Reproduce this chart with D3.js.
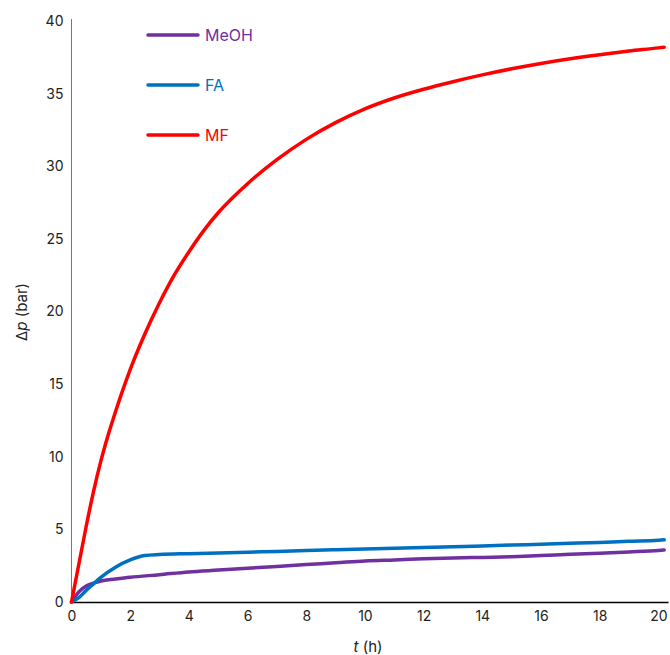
<!DOCTYPE html>
<html>
<head>
<meta charset="utf-8" />
<script src="https://d3js.org/d3.v7.min.js"></script>
<style>
  body { margin: 0; background: #fff; }
  text { font-family: Inter, "Noto Sans", sans-serif; }
</style>
</head>
<body>
<div id="canvas"></div>
<script>
// 読み取った値 (t in h, Δp in bar)
var seriesNames = ["MeOH", "FA", "MF"];
var seriesColors = ["#7030A0", "#0070C0", "#FF0000"];

var tMF   = [0, 0.25, 0.5, 0.75, 1, 1.25, 1.5, 1.75, 2, 2.5, 3, 3.5, 4, 4.5, 5, 5.5, 6, 7, 8, 9, 10, 11, 12, 13, 14, 15, 16, 17, 18, 19, 20, 20.2];
var vMF   = [0, 2.6, 5.2, 7.6, 9.7, 11.5, 13.1, 14.6, 16.0, 18.45, 20.6, 22.5, 24.1, 25.55, 26.8, 27.85, 28.8, 30.45, 31.85, 33.0, 33.95, 34.7, 35.3, 35.82, 36.29, 36.71, 37.08, 37.4, 37.68, 37.93, 38.15, 38.2];

var tFA   = [0, 0.25, 0.5, 0.75, 1, 1.5, 2, 2.5, 3, 4, 5, 6, 7, 8, 9, 10, 11, 12, 13, 14, 15, 16, 17, 18, 19, 20, 20.2];
var vFA   = [0, 0.3, 0.8, 1.25, 1.7, 2.4, 2.9, 3.2, 3.27, 3.33, 3.38, 3.43, 3.48, 3.55, 3.6, 3.65, 3.7, 3.75, 3.8, 3.86, 3.92, 3.98, 4.04, 4.1, 4.18, 4.25, 4.28];

var tMeOH = [0, 0.1, 0.25, 0.5, 0.75, 1, 1.5, 2, 3, 4, 5, 6, 7, 8, 9, 10, 11, 12, 13, 14, 15, 16, 17, 18, 19, 20, 20.2];
var vMeOH = [0, 0.3, 0.7, 1.1, 1.3, 1.45, 1.58, 1.7, 1.88, 2.07, 2.2, 2.33, 2.45, 2.58, 2.7, 2.83, 2.9, 2.97, 3.03, 3.07, 3.12, 3.2, 3.28, 3.36, 3.45, 3.55, 3.58];

var xTicks = [0, 2, 4, 6, 8, 10, 12, 14, 16, 18, 20];
var yTicks = [0, 5, 10, 15, 20, 25, 30, 35, 40];

var svgWidth = 670, svgHeight = 655;
var svg = d3.select("#canvas").append("svg")
    .attr("width", svgWidth)
    .attr("height", svgHeight);

var x = d3.scaleLinear().domain([0, 20.33]).range([71.5, 668]);
var y = d3.scaleLinear().domain([0, 40]).range([602, 21]);

// y軸
var yAxis = svg.append("g")
    .attr("transform", "translate(" + x(0) + ",0)")
    .call(d3.axisLeft(y).tickValues(yTicks).tickSize(0).tickPadding(8));
yAxis.select(".domain").attr("stroke", "#777").attr("d", "M0," + y(0) + "V19");
yAxis.selectAll("text").attr("font-size", "14px").attr("fill", "#222");

// x軸
var xAxis = svg.append("g")
    .attr("transform", "translate(0," + y(0) + ")")
    .call(d3.axisBottom(x).tickValues(xTicks).tickSize(0).tickPadding(9));
xAxis.select(".domain").attr("stroke", "#000").attr("stroke-width", 1.3);
xAxis.selectAll("text").attr("font-size", "14px").attr("fill", "#222");

// 軸タイトル
var xt = svg.append("text")
    .attr("x", 368).attr("y", 652)
    .attr("text-anchor", "middle")
    .attr("font-size", "15px").attr("fill", "#222");
xt.append("tspan").attr("font-style", "italic").text("t");
xt.append("tspan").text(" (h)");

var yt = svg.append("text")
    .attr("transform", "translate(27,312) rotate(-90)")
    .attr("text-anchor", "middle")
    .attr("font-size", "15px").attr("fill", "#222");
yt.append("tspan").text("Δ");
yt.append("tspan").attr("font-style", "italic").text("p");
yt.append("tspan").text(" (bar)");

// 線
var seriesData = [
    d3.zip(tMeOH, vMeOH),
    d3.zip(tFA, vFA),
    d3.zip(tMF, vMF)
];

var line = d3.line()
    .x(function(d){ return x(d[0]); })
    .y(function(d){ return y(d[1]); })
    .curve(d3.curveMonotoneX);

svg.selectAll(".series")
    .data(seriesData)
    .enter()
    .append("path")
    .attr("class", "series")
    .attr("fill", "none")
    .attr("stroke", function(d, i){ return seriesColors[i]; })
    .attr("stroke-width", 3.5)
    .attr("stroke-linecap", "round")
    .attr("stroke-linejoin", "round")
    .attr("d", line);

// 凡例
var legend = svg.selectAll(".legend")
    .data(seriesNames)
    .enter()
    .append("g")
    .attr("class", "legend")
    .attr("transform", function(d, i){ return "translate(148," + (35 + i * 50) + ")"; });

legend.append("line")
    .attr("x1", 0).attr("x2", 50)
    .attr("stroke", function(d, i){ return seriesColors[i]; })
    .attr("stroke-width", 3.5)
    .attr("stroke-linecap", "round");

legend.append("text")
    .attr("x", 57).attr("dy", "0.36em")
    .attr("font-size", "16px")
    .attr("fill", function(d, i){ return seriesColors[i]; })
    .text(function(d){ return d; });
</script>
</body>
</html>
